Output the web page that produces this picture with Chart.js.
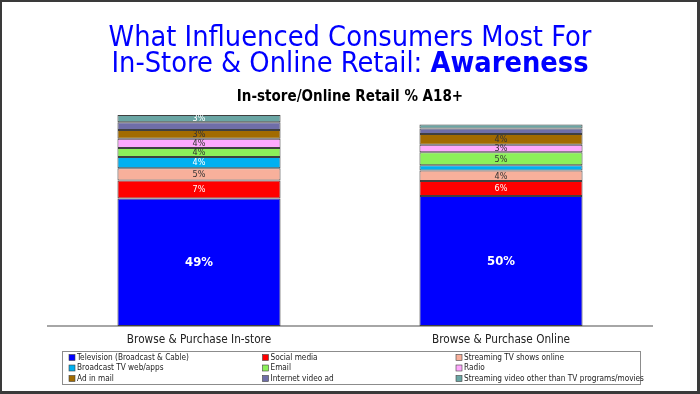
<!DOCTYPE html>
<html>
<head>
<meta charset="utf-8">
<script src="https://cdn.jsdelivr.net/npm/chart.js@4.4.1/dist/chart.umd.min.js"></script>
<style>
  body { margin: 0; background: #fff; }
  canvas { display: block; }
</style>
</head>
<body>
<canvas id="awareness-chart" width="700" height="394"></canvas>
<script>
const fontFamily = '"DejaVu Sans Condensed", "DejaVu Sans", Tahoma, sans-serif';

const categories = ['Browse & Purchase In-store', 'Browse & Purchase Online'];

// stacked bottom -> top
const television = [49, 50];
const socialMedia = [7, 5.8];
const streamingTvShows = [4.7, 4.0];
const broadcastTvWeb = [4.3, 2.0];
const email = [3.5, 5.0];
const radio = [3.5, 2.9];
const adInMail = [3.4, 4.1];
const internetVideoAd = [3.0, 2.2];
const streamingVideoOther = [2.8, 1.5];

const seriesNames = [
    'Television (Broadcast & Cable)', 'Social media', 'Streaming TV shows online',
    'Broadcast TV web/apps', 'Email', 'Radio',
    'Ad in mail', 'Internet video ad', 'Streaming video other than TV programs/movies'
];
const seriesValues = [
    television, socialMedia, streamingTvShows,
    broadcastTvWeb, email, radio,
    adInMail, internetVideoAd, streamingVideoOther
];
const seriesColors = [
    '#0000ff', '#ff0000', '#f8b09b',
    '#00b0f0', '#8cf05a', '#fea9fd',
    '#a26b00', '#6f6ea8', '#6aa6a4'
];
const labelColors = [
    '#ffffff', '#ffffff', '#333333',
    '#ffffff', '#333333', '#333333',
    '#333333', '#ffffff', '#ffffff'
];
// segments without a value label, per category
const hiddenLabels = [[7], [3, 7, 8]];

const frameAndText = {
    id: 'frameAndText',
    beforeDraw(chart) {
        const ctx = chart.ctx;
        ctx.save();
        ctx.fillStyle = '#fff';
        ctx.fillRect(0, 0, chart.width, chart.height);
        ctx.restore();
    },
    afterDraw(chart) {
        const ctx = chart.ctx;
        ctx.save();

        // title
        ctx.fillStyle = '#0000ff';
        ctx.textAlign = 'center';
        ctx.textBaseline = 'alphabetic';
        ctx.font = '28.7px ' + fontFamily;
        ctx.fillText('What Influenced Consumers Most For', 350, 46);
        const part1 = 'In-Store & Online Retail: ';
        const part2 = 'Awareness';
        const w1 = ctx.measureText(part1).width;
        ctx.font = 'bold 28.7px ' + fontFamily;
        const w2 = ctx.measureText(part2).width;
        const x = 350 - (w1 + w2) / 2;
        ctx.textAlign = 'left';
        ctx.font = '28.7px ' + fontFamily;
        ctx.fillText(part1, x, 72);
        ctx.font = 'bold 28.7px ' + fontFamily;
        ctx.fillText(part2, x + w1, 72);

        // subtitle
        ctx.fillStyle = '#000';
        ctx.textAlign = 'center';
        ctx.font = 'bold 15px ' + fontFamily;
        ctx.fillText('In-store/Online Retail % A18+', 350, 101);

        // legend box
        ctx.strokeStyle = '#8c8c8c';
        ctx.lineWidth = 1;
        ctx.strokeRect(62.5, 351.5, 578, 33);
        ctx.font = '8.2px ' + fontFamily;
        ctx.textBaseline = 'middle';
        ctx.textAlign = 'left';
        chart.data.datasets.forEach((ds, k) => {
            const col = k % 3;
            const row = Math.floor(k / 3);
            const lx = 69 + col * 193.5;
            const ly = 357.5 + row * 10.5;
            ctx.fillStyle = ds.backgroundColor;
            ctx.fillRect(lx, ly - 3, 6, 6);
            ctx.strokeStyle = '#404040';
            ctx.lineWidth = 0.6;
            ctx.strokeRect(lx, ly - 3, 6, 6);
            ctx.fillStyle = '#222';
            ctx.fillText(ds.label, lx + 8, ly);
        });

        // frame
        ctx.fillStyle = '#3a3a3a';
        ctx.fillRect(0, 0, chart.width, 2);
        ctx.fillRect(0, 0, 2, chart.height);
        ctx.fillRect(chart.width - 3, 0, 3, chart.height);
        ctx.fillRect(0, chart.height - 3, chart.width, 3);
        ctx.restore();
    }
};

const barLabels = {
    id: 'barLabels',
    afterDatasetsDraw(chart) {
        const ctx = chart.ctx;
        ctx.save();
        ctx.textAlign = 'center';
        ctx.textBaseline = 'middle';
        chart.data.datasets.forEach((ds, i) => {
            const meta = chart.getDatasetMeta(i);
            meta.data.forEach((el, j) => {
                if (hiddenLabels[j].includes(i)) {
                    return;
                }
                const text = Math.round(ds.data[j]) + '%';
                ctx.font = (i === 0 ? 'bold 13px ' : '9px ') + fontFamily;
                ctx.fillStyle = labelColors[i];
                ctx.fillText(text, el.x, (el.y + el.base) / 2 + 0.5);
            });
        });
        ctx.restore();
    }
};

new Chart(document.getElementById('awareness-chart'), {
    type: 'bar',
    data: {
        labels: categories,
        datasets: seriesNames.map((name, i) => ({
            label: name,
            data: seriesValues[i],
            backgroundColor: seriesColors[i],
            borderColor: '#404040',
            borderWidth: 1,
            borderSkipped: false,
            categoryPercentage: 1,
            barPercentage: 0.54,
        }))
    },
    options: {
        responsive: false,
        animation: false,
        events: [],
        layout: {
            padding: { left: 48, right: 48, top: 66, bottom: 46 }
        },
        plugins: {
            legend: { display: false },
            title: { display: false },
            tooltip: { enabled: false },
        },
        scales: {
            x: {
                stacked: true,
                grid: { display: false, drawTicks: false },
                border: { color: '#a6a6a6', width: 2 },
                ticks: {
                    color: '#222',
                    padding: 7,
                    font: { family: fontFamily, size: 11.7 },
                },
                afterFit(scale) {
                    scale.height = 22;
                },
            },
            y: {
                stacked: true,
                display: false,
                min: 0,
                max: 100,
            }
        }
    },
    plugins: [frameAndText, barLabels]
});
</script>
</body>
</html>
